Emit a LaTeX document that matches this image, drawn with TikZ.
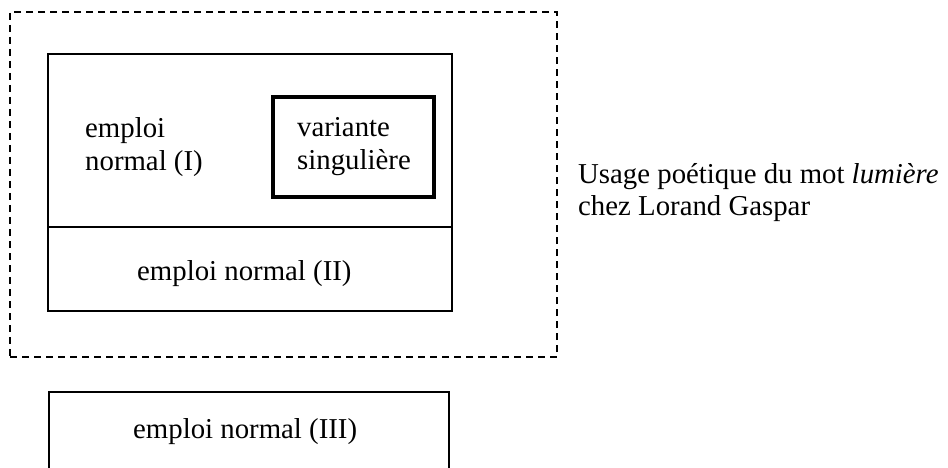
\documentclass[tikz,border=0pt]{standalone}
\usepackage{fontspec}
\setmainfont{Liberation Serif}
\begin{document}
\begin{tikzpicture}[x=1pt,y=-1pt,
  frame/.style={draw, line width=1.6pt, inner sep=0pt, outer sep=0pt},
  dashframe/.style={frame, line width=2pt, dash pattern=on 7pt off 5pt},
  thickframe/.style={frame, line width=4pt},
  txt/.style={inner sep=0pt, anchor=base west, font=\fontsize{28.8}{33}\selectfont}]
  \useasboundingbox (0,0) rectangle (948,468);
  \clip (0,0) rectangle (948,468);
  % outer dashed region: poetic usage
  \node[dashframe, minimum width=547pt, minimum height=345pt] (usage) at (283.5,184.5) {};
  % inner boxes
  \node[frame, minimum width=404pt, minimum height=173pt] (normalI) at (250,140.5) {};
  \node[frame, minimum width=404pt, minimum height=84pt] (normalII) at (250,269) {};
  \node[thickframe, minimum width=161pt, minimum height=100pt] (variante) at (353.5,147) {};
  % third box, running off the lower edge
  \node[frame, minimum width=400pt, minimum height=160pt] (normalIII) at (249,472) {};
  % labels
  \node[txt] (tI1) at (85,138) {emploi};
  \node[txt] (tI2) at (85,171) {normal (I)};
  \node[txt] (tv1) at (297,137) {variante};
  \node[txt] (tv2) at (297,169) {singulière};
  \node[txt] (tII) at (137,280) {emploi normal (II)};
  \node[txt] (tIII) at (133,438) {emploi normal (III)};
  \node[txt] (tu1) at (578,183) {Usage poétique du mot \textit{lumière}};
  \node[txt] (tu2) at (578,215) {chez Lorand Gaspar};
\end{tikzpicture}
\end{document}
